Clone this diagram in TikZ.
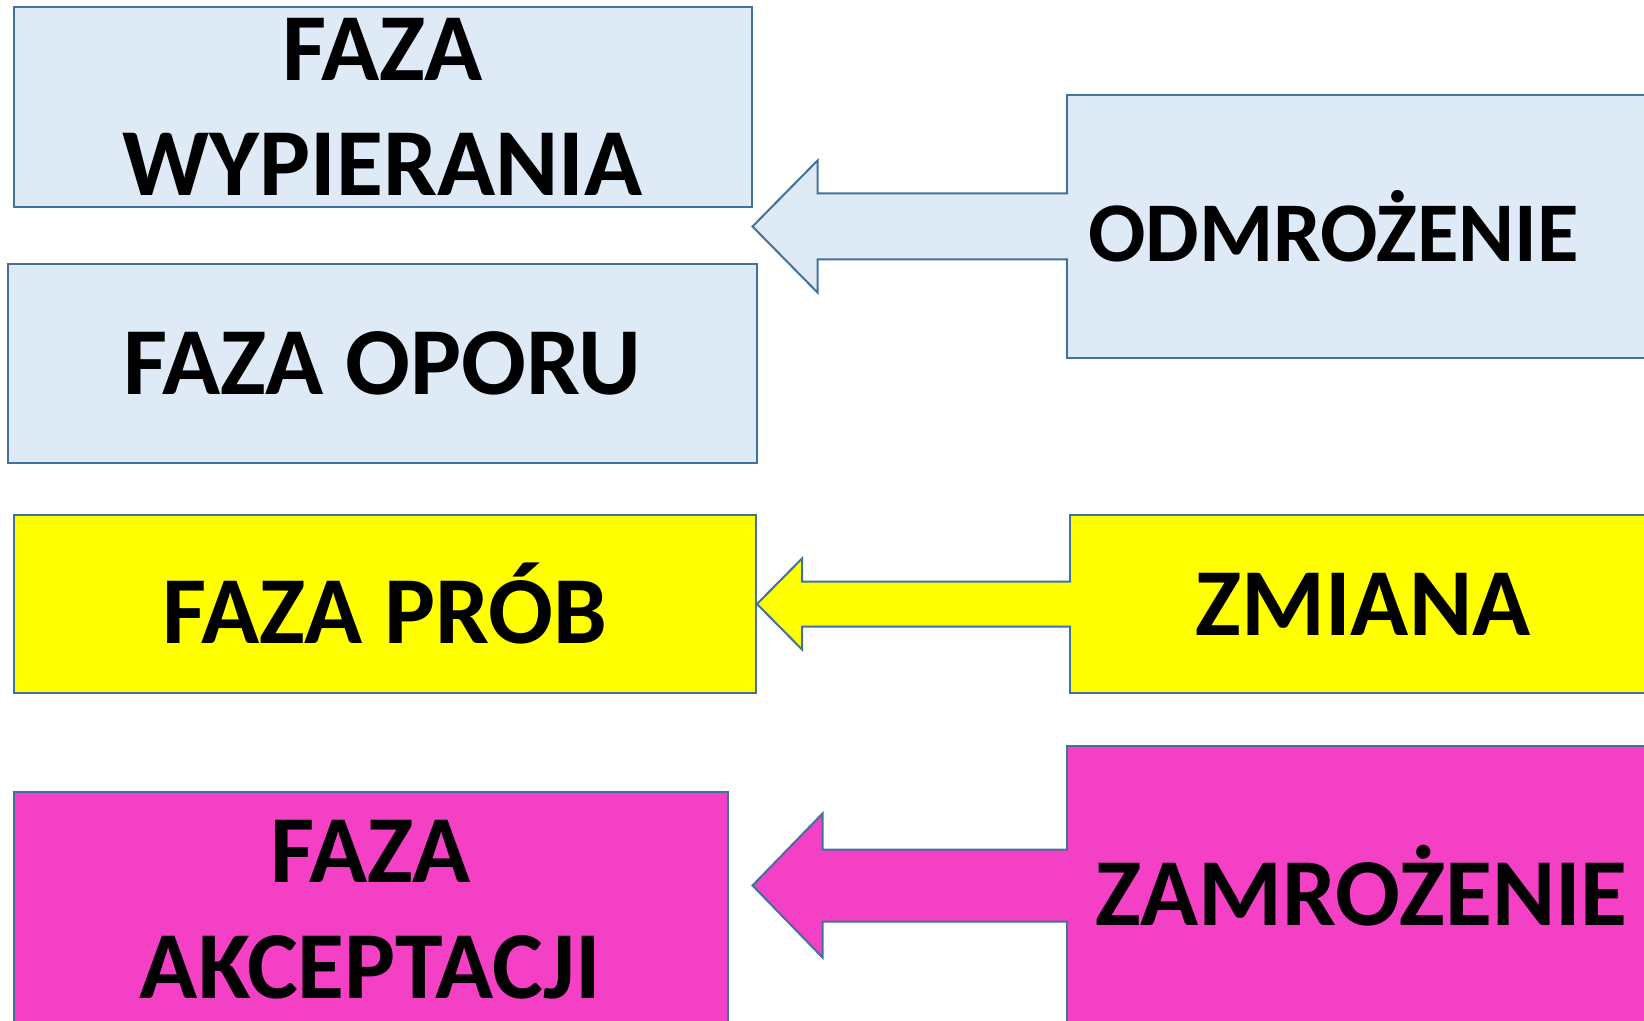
\documentclass[tikz,border=0pt]{standalone}
\usepackage{fontspec}
\setmainfont{Carlito}
\usetikzlibrary{calc}
\definecolor{niebieski}{HTML}{DEEAF6}
\definecolor{ramka}{HTML}{41719C}
\definecolor{zolty}{HTML}{FFFF00}
\definecolor{rozowy}{HTML}{F340C4}
% base, tip, shaft half, head half, head length, fill
\newcommand{\strzalka}[6]{%
  \filldraw[strz,fill=#6] let \p1=(#1), \p2=(#2) in
    (\x1+1pt,\y1+#3) -- (\x2+#5,\y1+#3) -- (\x2+#5,\y1+#4) -- (\x2,\y1)
    -- (\x2+#5,\y1-#4) -- (\x2+#5,\y1-#3) -- (\x1+1pt,\y1-#3);}

\begin{document}
\begin{tikzpicture}[x=0.5pt,y=-0.5pt,
    faza/.style={draw=ramka,line width=1pt,inner sep=0pt,align=center,
      font=\fontsize{48}{57.8}\selectfont\bfseries},
    strz/.style={draw=ramka,line width=1pt}]
        \useasboundingbox (0,0) rectangle (1644,1021);
        \clip (0,0) rectangle (1644,1021);
        \node[faza,fill=niebieski,minimum width=369pt,minimum height=99.7pt] (wyp) at (382.5,107) {FAZA\\WYPIERANIA};
        \node[faza,fill=niebieski,minimum width=374.3pt,minimum height=99.4pt] (opor) at (382.3,363.3) {FAZA OPORU};
        \node[faza,fill=zolty,minimum width=371.2pt,minimum height=89pt] (proby) at (384.8,604) {FAZA PRÓB};
        \node[faza,fill=rozowy,minimum width=357pt,minimum height=118.2pt] (akcep) at (370.6,909.8) {FAZA\\AKCEPTACJI};
        \node[faza,fill=niebieski,minimum width=294.5pt,minimum height=131.5pt,text width=273.5pt,align=left,
          font=\fontsize{42.5}{51}\selectfont\bfseries] (odm) at (1361.5,226.5) {ODMROŻENIE};
        \node[faza,fill=zolty,minimum width=293pt,minimum height=89pt] (zmiana) at (1363,604) {ZMIANA};
        \node[faza,fill=rozowy,minimum width=294.5pt,minimum height=139.5pt] (zamr) at (1361.5,885.5) {ZAMROŻENIE};
        \strzalka{odm.west}{wyp.east |- odm.west}{16.5pt}{33pt}{32.5pt}{niebieski}
        \strzalka{zmiana.west}{proby.east}{11.25pt}{22.75pt}{22.5pt}{zolty}
        \strzalka{zamr.west}{wyp.east |- zamr.west}{18pt}{36pt}{35pt}{rozowy}
    \end{tikzpicture}
\end{document}
